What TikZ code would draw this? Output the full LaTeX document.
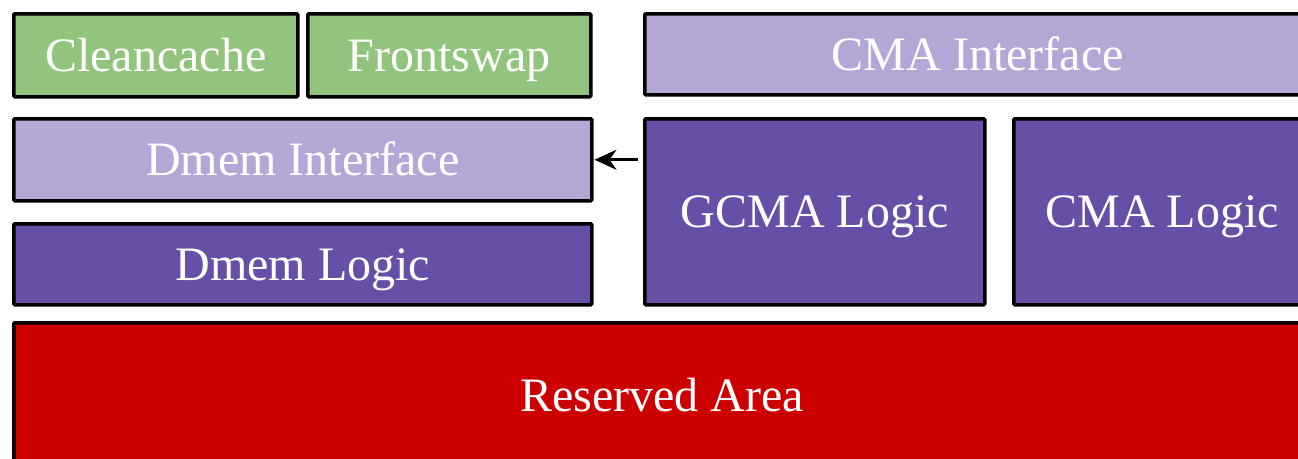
\documentclass[tikz,border=0pt]{standalone}
\usepackage{fontspec}
\setmainfont{Liberation Serif}
\usetikzlibrary{arrows.meta}
\definecolor{cgreen}{HTML}{93C47D}
\definecolor{clight}{HTML}{B4A7D6}
\definecolor{cdark}{HTML}{674EA7}
\definecolor{cred}{HTML}{CC0000}
\tikzset{
  blk/.style={draw=black, line width=3.5pt, rectangle, rounded corners=1pt, inner sep=0pt,
    anchor=north west, text=white, font=\fontsize{48}{52}\selectfont,
    text height=34pt, text depth=2pt},
  conn/.style={line width=2.6pt, -{Stealth[length=22pt,width=20pt,inset=7pt]}}
}
\begin{document}
\begin{tikzpicture}[x=1pt,y=-1pt]
\useasboundingbox (0,0) rectangle (1298,458);
\clip (0,0) rectangle (1298,458);
\node[blk, fill=cgreen, minimum width=284pt, minimum height=83pt] (clean) at (12,12) {Cleancache};
\node[blk, fill=cgreen, minimum width=283pt, minimum height=83pt] (front) at (306,12) {Frontswap};
\node[blk, fill=clight, minimum width=666pt, minimum height=81pt] (cmai) at (643,12) {CMA Interface};
\node[blk, fill=clight, minimum width=578pt, minimum height=82pt] (dmemi) at (12,117) {Dmem Interface};
\node[blk, fill=cdark, minimum width=578pt, minimum height=81pt] (dmeml) at (12,222) {Dmem Logic};
\node[blk, fill=cdark, minimum width=340pt, minimum height=186pt] (gcma) at (643,117) {GCMA Logic};
\node[blk, fill=cdark, minimum width=297pt, minimum height=186pt] (cmal) at (1012,117) {CMA Logic};
\node[blk, fill=cred, minimum width=1297pt, minimum height=145pt] (res) at (12,321) {Reserved Area};
\draw[conn, shorten <=5pt, shorten >=1pt] (gcma.west |- dmemi.east) -- (dmemi.east);
\end{tikzpicture}
\end{document}
